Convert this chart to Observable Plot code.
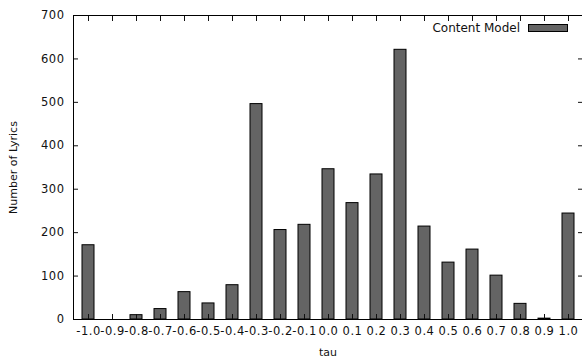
<!DOCTYPE html>
<html>
<head>
<meta charset="utf-8">
<script src="https://cdn.jsdelivr.net/npm/d3@7"></script>
<script src="https://cdn.jsdelivr.net/npm/@observablehq/plot@0.6"></script>
<style>
  html, body { margin: 0; padding: 0; background: #fff; overflow: hidden; }
  #wrap { position: relative; width: 582px; height: 358px; }
  #legend { position: absolute; top: 21px; right: 14px; display: flex; align-items: center; line-height: 14px;
            font-family: "DejaVu Sans", sans-serif; font-size: 12px; color: #111; }
  #legend .swatch { display: inline-block; width: 38px; height: 6px; background: #646464;
                    border: 1px solid #000; margin-left: 8px; }
  #wrap svg g[aria-label="x-axis tick label"] text,
  #wrap svg g[aria-label="y-axis tick label"] text { letter-spacing: 0.5px; font-size: 11.5px; }
</style>
</head>
<body>
<div id="wrap"><div id="legend"><span>Content Model</span><span class="swatch"></span></div></div>
<script>
const categories = ["-1.0","-0.9","-0.8","-0.7","-0.6","-0.5","-0.4","-0.3","-0.2","-0.1","0.0","0.1","0.2","0.3","0.4","0.5","0.6","0.7","0.8","0.9","1.0"];
const counts = [171, 0, 10, 24, 63, 37, 79, 496, 206, 218, 346, 268, 334, 621, 214, 131, 161, 101, 36, 2, 244];
const yTicks = [0, 100, 200, 300, 400, 500, 600, 700];
const seriesName = "Content Model";

const data = categories.map((c, i) => ({tau: c, n: counts[i]}));

const chart = Plot.plot({
  width: 582,
  height: 358,
  marginLeft: 73,
  marginRight: 0,
  marginTop: 15,
  marginBottom: 39,
  style: "font-family: 'DejaVu Sans', sans-serif; font-size: 11px; color: #111;",
  x: {domain: categories, range: [73, 583], paddingInner: 0.5, paddingOuter: 0.25, align: 0.5},
  y: {domain: [0, 700]},
  marks: [
    Plot.barY(data, {x: "tau", y: "n", fill: "#646464", stroke: "#000", strokeWidth: 1}),
    Plot.axisX({anchor: "bottom", tickSize: -5, tickPadding: 12, label: "tau", labelAnchor: "center", labelArrow: false, labelOffset: 36}),
    Plot.axisX({anchor: "top", tickSize: -5, tickFormat: () => "", label: null}),
    Plot.axisY({anchor: "left", ticks: yTicks, tickSize: -5, tickPadding: 14, label: "Number of Lyrics", labelAnchor: "center", labelArrow: false, labelOffset: 64}),
    Plot.axisY({anchor: "right", ticks: yTicks, tickSize: -5, tickFormat: () => "", label: null}),
    Plot.frame({stroke: "#000", strokeWidth: 1})
  ]
});
document.getElementById("wrap").prepend(chart);
document.getElementById("legend").setAttribute("title", seriesName);
</script>
</body>
</html>
